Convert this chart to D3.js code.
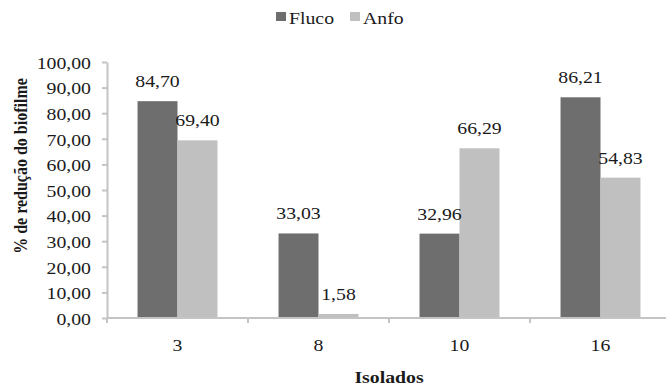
<!DOCTYPE html>
<html>
<head>
<meta charset="utf-8">
<script src="https://cdn.jsdelivr.net/npm/d3@7"></script>
<style>
  html, body { margin: 0; padding: 0; background: #fff; }
  svg { display: block; }
</style>
</head>
<body>
<svg id="chart" width="666" height="389"></svg>
<script>
const categories = ["3", "8", "10", "16"];
const seriesNames = ["Fluco", "Anfo"];
const fluco = [84.70, 33.03, 32.96, 86.21];
const anfo = [69.40, 1.58, 66.29, 54.83];
const yTicks = [0, 10, 20, 30, 40, 50, 60, 70, 80, 90, 100];
const colors = ["#6e6e6e", "#c0c0c0"];

const FONT = '"Liberation Serif"';
const SX = 1.13;
const svg = d3.select("#chart");
const fmt = v => v.toFixed(2).replace(".", ",");

const y = d3.scaleLinear().domain([0, 100]).range([318, 62]);
const x0 = d3.scaleBand().domain(categories).range([107, 671])
  .paddingInner(0.433).paddingOuter(0.2165);
const x1 = d3.scaleBand().domain(seriesNames).range([0, x0.bandwidth()]);
const color = d3.scaleOrdinal().domain(seriesNames).range(colors);

const rows = categories.map((c, i) => ({ cat: c, values: [
  { key: "Fluco", value: fluco[i] },
  { key: "Anfo", value: anfo[i] }
]}));

function styleText(sel, size, weight) {
  return sel.style("font-family", FONT).style("font-size", size + "px")
    .style("font-weight", weight || "normal").style("fill", "#1a1a1a");
}
function place(sel, fx, fy) {
  return sel.attr("x", 0).attr("y", 0)
    .attr("transform", (d, i) => `translate(${fx(d, i)},${fy(d, i)}) scale(${SX},1)`);
}

// y axis
const yAxis = d3.axisLeft(y).tickValues(yTicks).tickFormat(fmt).tickSize(5).tickSizeOuter(0);
const gy = svg.append("g").attr("transform", "translate(107,0)").call(yAxis);
gy.attr("font-family", null).attr("font-size", null);
gy.select(".domain").attr("stroke", "#c4c4c4").attr("stroke-width", 2);
gy.selectAll(".tick line").attr("stroke", "#c4c4c4").attr("stroke-width", 2);
styleText(place(gy.selectAll(".tick text"), () => -16, () => 0).attr("dy", "0.36em"), 17.5);

// bars
const groups = svg.append("g").selectAll("g").data(rows).join("g")
  .attr("transform", d => `translate(${x0(d.cat)},0)`);
groups.selectAll("rect").data(d => d.values).join("rect")
  .attr("x", d => x1(d.key))
  .attr("y", d => y(d.value))
  .attr("width", x1.bandwidth())
  .attr("height", d => y(0) - y(d.value))
  .attr("fill", d => color(d.key));
styleText(place(groups.selectAll("text").data(d => d.values).join("text")
  .attr("text-anchor", "middle")
  .text(d => fmt(d.value)),
  d => x1(d.key) + x1.bandwidth() / 2, d => y(d.value) - 14), 17.5);

// x axis
const step = x0.step();
const xAxisG = svg.append("g");
xAxisG.append("line").attr("x1", 107).attr("x2", 671).attr("y1", y(0)).attr("y2", y(0))
  .attr("stroke", "#c4c4c4").attr("stroke-width", 2);
xAxisG.selectAll("line.tk").data(d3.range(categories.length + 1)).join("line")
  .attr("class", "tk")
  .attr("x1", i => 107 + i * step).attr("x2", i => 107 + i * step)
  .attr("y1", y(0)).attr("y2", y(0) + 5)
  .attr("stroke", "#c4c4c4").attr("stroke-width", 2);
styleText(place(xAxisG.selectAll("text").data(categories).join("text")
  .attr("text-anchor", "middle")
  .text(d => d),
  d => x0(d) + x0.bandwidth() / 2, () => 351), 17.5);

// axis titles
styleText(place(svg.append("text").attr("text-anchor", "middle").text("Isolados"),
  () => 389, () => 383), 17.5, "bold");
styleText(svg.append("text").attr("transform", `translate(27,166) rotate(-90) scale(1,${SX})`)
  .attr("text-anchor", "middle")
  .text("% de redução do biofilme"), 16, "bold");

// legend
const legendPos = [{ sx: 276, tx: 289 }, { sx: 350, tx: 363 }];
const lg = svg.append("g").selectAll("g").data(seriesNames).join("g");
lg.append("rect")
  .attr("x", (d, i) => legendPos[i].sx).attr("y", 12)
  .attr("width", 10).attr("height", 9)
  .attr("fill", d => color(d));
styleText(place(lg.append("text").text(d => d),
  (d, i) => legendPos[i].tx, () => 24), 17.5);
</script>
</body>
</html>
